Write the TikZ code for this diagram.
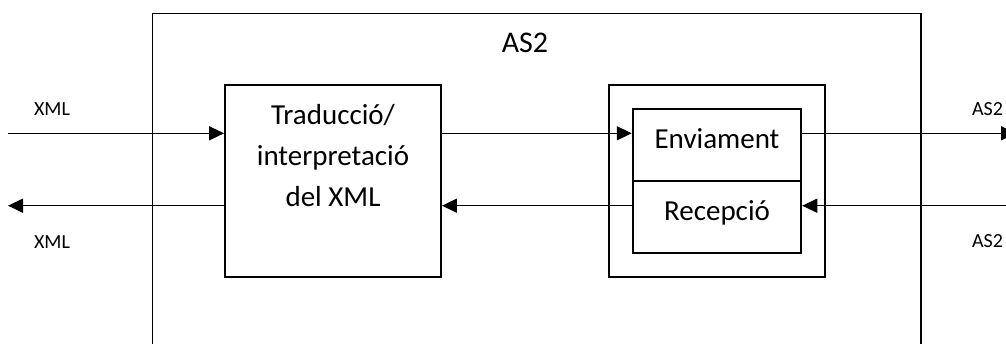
\documentclass[tikz,border=0pt]{standalone}
\usepackage{fontspec}
\setmainfont{Carlito}
\usetikzlibrary{arrows.meta}
\begin{document}
\begin{tikzpicture}[x=1pt,y=-1pt,
  block/.style={draw=black,line width=1.9pt,inner sep=0pt,rectangle},
  flow/.style={draw=black,line width=1.4pt,-{Triangle[length=15pt,width=14pt]}},
  bigtext/.style={font=\fontsize{29}{41}\selectfont,inner sep=0pt,anchor=base},
  titletext/.style={font=\fontsize{30}{36}\selectfont,inner sep=0pt,anchor=base},
  smalltext/.style={font=\fontsize{20}{24}\selectfont,inner sep=0pt,anchor=base}]
  \fill[white] (0,0) rectangle (1006,343);
  \useasboundingbox (0,0) rectangle (1006,343);

  % system frame (open towards the bottom edge)
  \node[block,minimum width=768.5pt,minimum height=346.5pt] (as2) at (536.75,186.75) {};
  \node[titletext] (as2title) at (525,52.3) {AS2};

  % translation block
  \node[block,minimum width=216pt,minimum height=192pt] (trad) at (333,181) {};
  \node[bigtext] (tradtxt) at (333,124) {\renewcommand\arraystretch{1}\setlength\tabcolsep{0pt}%
    \begin{tabular}[t]{c}Traducció/\\interpretació\\del XML\end{tabular}};

  % send / receive module
  \node[block,minimum width=216.3pt,minimum height=192pt] (mod) at (716.85,181) {};
  \node[block,minimum width=168.6pt,minimum height=72pt] (env) at (717,145) {};
  \node[block,minimum width=168.6pt,minimum height=72pt] (rec) at (717,217) {};
  \node[bigtext] (envtxt) at (717,148.3) {Enviament};
  \node[bigtext] (rectxt) at (717,220) {Recepció};

  % flow levels and free ends
  \coordinate (yA) at (0,133.3);
  \coordinate (yB) at (0,205.7);
  \coordinate (xmlin) at (8,133.3);
  \coordinate (xmlout) at (8,205.7);
  \coordinate (as2out) at (1016,133.3);
  \coordinate (as2in) at (1012,205.7);

  \draw[flow] (xmlin) -- (trad.west |- yA);
  \draw[flow] (trad.west |- yB) -- (xmlout);
  \draw[flow] (trad.east |- yA) -- (env.west |- yA);
  \draw[flow] (rec.west |- yB) -- (trad.east |- yB);
  \draw[flow] (env.east |- yA) -- (as2out);
  \draw[flow] (as2in) -- (rec.east |- yB);

  % edge labels
  \node[smalltext] (xmlinlbl) at (52,115) {XML};
  \node[smalltext] (xmloutlbl) at (52,248) {XML};
  \node[smalltext] (as2outlbl) at (987.5,115) {AS2};
  \node[smalltext] (as2inlbl) at (987.5,247) {AS2};
\end{tikzpicture}
\end{document}
